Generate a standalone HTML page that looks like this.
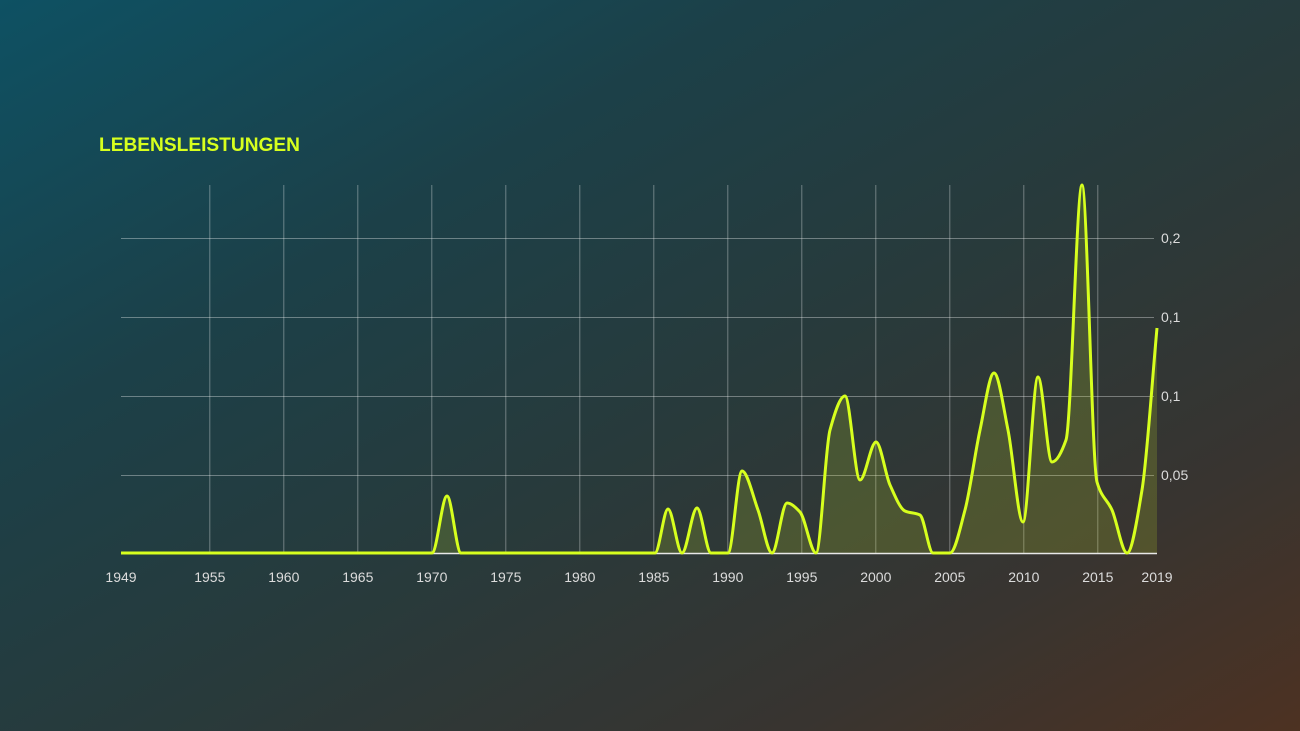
<!DOCTYPE html>
<html><head><meta charset="utf-8"><style>
html,body{margin:0;padding:0}
body{width:1300px;height:731px;overflow:hidden;background:linear-gradient(150deg,#0e5163 0%,#1c4048 30%,#283a3b 55%,#383430 80%,#4d3222 100%);font-family:"Liberation Sans",sans-serif}
</style></head><body>
<svg width="1300" height="731" style="position:absolute;left:0;top:0">
<text x="99" y="151" fill="#d7ff1e" font-family="Liberation Sans" font-weight="bold" font-size="19" textLength="201" lengthAdjust="spacingAndGlyphs">LEBENSLEISTUNGEN</text>
<g id="grid" stroke="rgba(255,255,255,0.35)" stroke-width="1"></g>
<g id="labels" fill="#dcdcdc" font-size="14" font-family="Liberation Sans"></g>
<path id="area" fill="rgba(200,230,40,0.18)"/>
<line x1="121" y1="553.5" x2="1157" y2="553.5" stroke="#e8e8e8" stroke-width="1.5"/>
<path id="line" fill="none" stroke="#d7ff1e" stroke-width="3" stroke-linejoin="round"/>
</svg>
<script>
var ns="http://www.w3.org/2000/svg";
var g=document.getElementById('grid'),L=document.getElementById('labels');
function el(p,t,a,txt){var e=document.createElementNS(ns,t);for(var k in a)e.setAttribute(k,a[k]);if(txt)e.textContent=txt;p.appendChild(e);}
[1955,1960,1965,1970,1975,1980,1985,1990,1995,2000,2005,2010,2015].forEach(function(y){var x=121+(y-1949)*14.8;el(g,'line',{x1:x,x2:x,y1:185,y2:553});});
[1949,1955,1960,1965,1970,1975,1980,1985,1990,1995,2000,2005,2010,2015,2019].forEach(function(y){var x=121+(y-1949)*14.8;el(L,'text',{x:x,y:582,'text-anchor':'middle'},String(y));});
[[238,'0,2'],[317,'0,1'],[396,'0,1'],[475,'0,05']].forEach(function(a){el(g,'line',{x1:121,x2:1154,y1:a[0]+.5,y2:a[0]+.5});el(L,'text',{x:1161,y:a[0]+5},a[1]);});
var P=[[121,553],[432,553],[447,496],[461,553],[655,553],[668,509],[682,553],[697,508],[711,553],[728,553],[742,471],[758,510],[772,553],[787,503],[800,512],[816,553],[830,430],[845,396],[860,480],[876,442],[890,485],[905,511],[920,515],[933,553],[950,553],[965,510],[980,430],[994,373],[1008,430],[1023,522],[1038,377],[1052,462],[1066,440],[1082,185],[1097,482],[1112,510],[1127,553],[1142,490],[1157,328]];
var n=P.length,s=[],m=[];
for(var i=0;i<n-1;i++)s.push((P[i+1][1]-P[i][1])/(P[i+1][0]-P[i][0]));
for(i=0;i<n;i++){
 if(i==0)m.push(s[0]);else if(i==n-1)m.push(s[n-2]);
 else{var a=s[i-1],b=s[i];if(a*b<=0)m.push(0);else{var h0=P[i][0]-P[i-1][0],h1=P[i+1][0]-P[i][0];var w1=2*h1+h0,w2=h1+2*h0;m.push((w1+w2)/(w1/a+w2/b));}}
}
var d="M"+P[0][0]+","+P[0][1];
for(i=0;i<n-1;i++){var h=(P[i+1][0]-P[i][0])/3;
d+=" C"+(P[i][0]+h).toFixed(1)+","+(P[i][1]+m[i]*h).toFixed(1)+" "+(P[i+1][0]-h).toFixed(1)+","+(P[i+1][1]-m[i+1]*h).toFixed(1)+" "+P[i+1][0]+","+P[i+1][1];}
document.getElementById('line').setAttribute('d',d);
document.getElementById('area').setAttribute('d',d+" L1157,553 L121,553 Z");
</script>
</body></html>
